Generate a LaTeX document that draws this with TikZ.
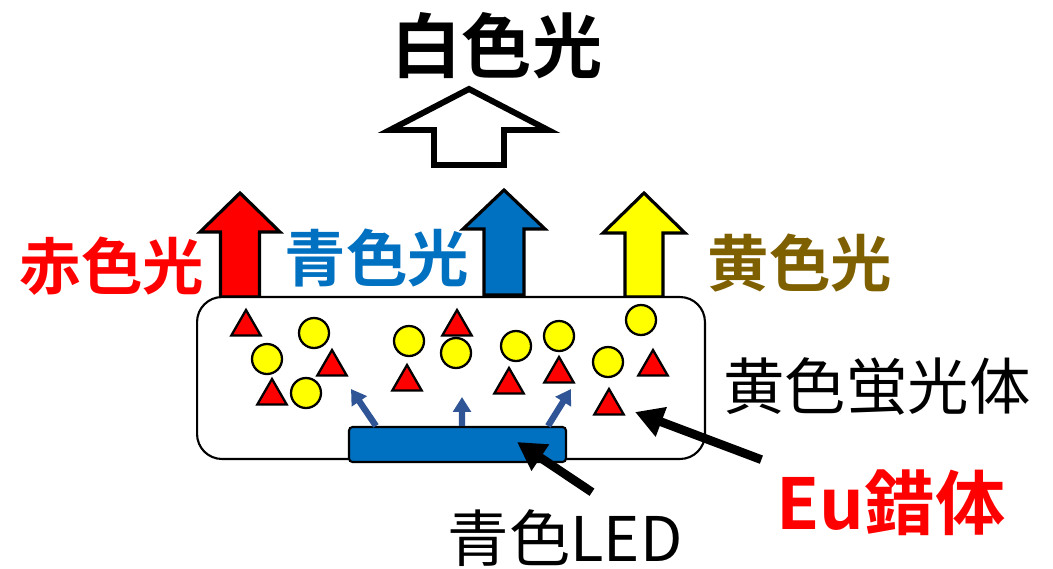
\documentclass[tikz,border=0pt]{standalone}
\usepackage{fontspec}
\setmainfont{Noto Sans CJK JP}[BoldFont={Noto Sans CJK JP Bold}]
\usetikzlibrary{arrows.meta,shapes.geometric}
\definecolor{led_blue}{RGB}{0,112,192}
\definecolor{ray_blue}{RGB}{47,85,151}
\definecolor{txt_olive}{RGB}{127,96,0}
\definecolor{tri_red}{RGB}{255,0,0}
\definecolor{dot_yellow}{RGB}{255,255,0}

% style, centre x, tip y, head y, bottom y, half head, half shaft
\newcommand{\uparr}[7]{%
  \draw[#1] (#2,#3) -- ({#2+#6},#4) -- ({#2+#7},#4) -- ({#2+#7},#5)
    -- ({#2-#7},#5) -- ({#2-#7},#4) -- ({#2-#6},#4) -- cycle;}

\begin{document}
\begin{tikzpicture}[x=0.02cm,y=-0.02cm,line join=miter]
    \tikzstyle{lbl}=[inner sep=0pt, font=\fontsize{35pt}{40pt}\selectfont]
    \tikzstyle{big}=[lbl, font=\fontsize{40pt}{46pt}\selectfont\bfseries]
    \tikzstyle{dot}=[circle, draw=black, line width=1.3pt, fill=dot_yellow, minimum size=0.6cm, inner sep=0pt]
    \tikzstyle{tri}=[regular polygon, regular polygon sides=3, draw=black, line width=1.3pt, fill=tri_red, minimum size=0.68cm, inner sep=0pt]
    \tikzstyle{ray}=[draw=ray_blue, line width=3.6pt, -{Triangle[length=8.5pt,width=10pt]}]
    \tikzstyle{ptr}=[draw=black, line width=5pt, -{Triangle[length=16pt,width=17pt]}]
    \tikzstyle{bigarr}=[draw=black, line width=1.8pt]

    \useasboundingbox (0,0) rectangle (1053,568);

    % output arrows
    \uparr{bigarr, fill=tri_red}{240}{193}{232}{297}{40}{19.5}
    \uparr{bigarr, fill=led_blue}{504}{190}{229}{295}{41}{20}
    \uparr{bigarr, fill=dot_yellow}{644}{193}{233}{297}{41}{19}
    \uparr{draw=black, line width=3.4pt, fill=white}{469}{89}{130}{165}{79}{35}

    % phosphor box and LED
    \node[draw=black, line width=1.2pt, fill=white, rounded corners=0.5cm,
          minimum width=10.16cm, minimum height=3.24cm] (phos) at (451,378) {};
    \node[draw=black, line width=1.2pt, fill=led_blue, rounded corners=2pt,
          minimum width=4.34cm, minimum height=0.7cm] (led) at (457.5,444.5) {};

    % yellow phosphor
    \node[dot] (y1) at (314,333) {};
    \node[dot] (y2) at (267,359) {};
    \node[dot] (y3) at (306,393) {};
    \node[dot] (y4) at (409,341) {};
    \node[dot] (y5) at (456,353) {};
    \node[dot] (y6) at (516,346) {};
    \node[dot] (y7) at (559,336) {};
    \node[dot] (y8) at (608,362) {};
    \node[dot] (y9) at (641,320) {};

    % Eu complex
    \node[tri] (t1) at (246,327) {};
    \node[tri] (t2) at (332,367) {};
    \node[tri] (t3) at (272,396) {};
    \node[tri] (t4) at (407,382) {};
    \node[tri] (t5) at (457,327) {};
    \node[tri] (t6) at (509,385) {};
    \node[tri] (t7) at (559,374) {};
    \node[tri] (t8) at (609,406) {};
    \node[tri] (t9) at (653,367) {};

    % labels
    \node[big] (white) at (497,46) {白色光};
    \node[lbl, font=\fontsize{35pt}{40pt}\selectfont\bfseries, text=tri_red] (red) at (112,266) {赤色光};
    \node[lbl, font=\fontsize{35pt}{40pt}\selectfont\bfseries, text=led_blue] (blue) at (377,258) {青色光};
    \node[lbl, font=\fontsize{35pt}{40pt}\selectfont\bfseries, text=txt_olive] (yellow) at (800,263) {黄色光};
    \node[lbl, font=\fontsize{35pt}{40pt}\selectfont] (phoslbl) at (877,386) {黄色蛍光体};
    \node[big, text=tri_red] (eu) at (891,503) {Eu錯体};
    \node[lbl, font=\fontsize{35pt}{40pt}\selectfont] (ledlbl) at (565,538) {青色LED};

    \coordinate (r1) at (351,389);
    \coordinate (r2) at (462,397);
    \coordinate (r3) at (571,389);
    \coordinate (eutip) at (635,412);
    \coordinate (ledtip) at (517,442);

    \path
     (led.north) ++(-81.5,0) edge[ray] (r1)
     (led.north) ++(4.5,0) edge[ray] (r2)
     (led.north) ++(90.5,0) edge[ray] (r3)
     ([shift={(-15,-10)}]eu.north west) edge[ptr] (eutip)
     ([shift={(27,-17)}]ledlbl.north) edge[ptr] (ledtip)
     ;
\end{tikzpicture}
\end{document}
